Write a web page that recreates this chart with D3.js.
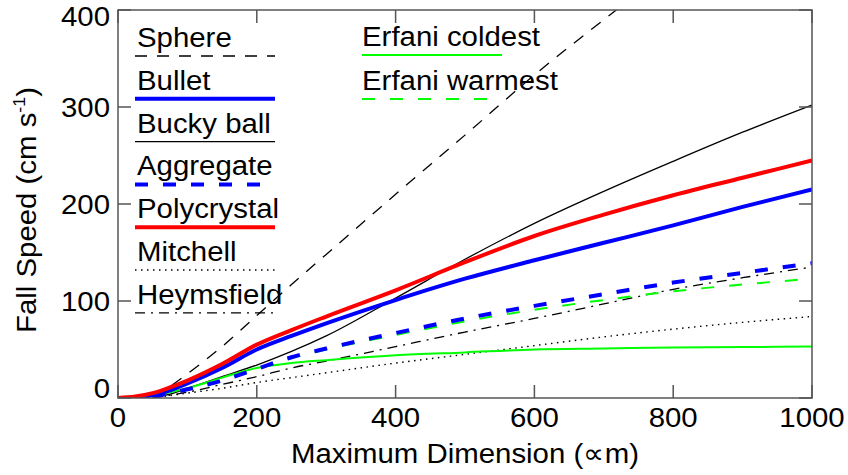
<!DOCTYPE html>
<html>
<head>
<meta charset="utf-8">
<script src="https://cdn.jsdelivr.net/npm/d3@7"></script>
<style>
  body { margin: 0; background: #fff; }
  text { font-family: "Liberation Sans", Arial, Helvetica, sans-serif; fill: #000; }
</style>
</head>
<body>
<svg id="chart" width="848" height="475"></svg>
<script>
// Maximum dimension grid (micrometres) shared by every fall-speed curve
const diameters = [0, 25, 50, 75, 100, 150, 200, 250, 300, 400, 500, 600, 700, 800, 900, 1000];

// Fall speed (cm s^-1) for each habit; null where the curve is not drawn
const sphere       = [null, null, 2, 12, 25, 53, 85, 117, 148, 210, 271, 333, 390, 445, null, null];
const bullet       = [0, 0.5, 3, 8, 15, 31, 50, 64, 77, 101, 123, 142, 160, 178, 197, 215];
const buckyBall    = [null, null, 0.5, 4, 10, 22, 34, 48, 64, 103, 143, 180, 213, 244, 274, 302];
const aggregate    = [null, null, 2, 5, 9, 18, 30, 42, 51, 67, 82, 95, 107, 119, 129, 139];
const polycrystal  = [0, 1.5, 5, 11, 18, 35, 55, 70, 84, 111, 140, 167, 189, 209, 227, 245];
const mitchell     = [null, null, 0, 2.5, 5, 10, 16, 21, 26, 36, 45, 54, 63, 71, 78, 84];
const heymsfield   = [null, null, 0, 3, 6, 14, 22, 31, 38, 53, 68, 82, 97, 112, 124, 135];
const erfaniCold   = [null, null, 2, 6, 10, 21, 31, 36, 39, 44, 47, 50, 51, 52, 52.5, 53];
const erfaniWarm   = [null, null, 2, 5, 9, 18, 30, 41, 50, 65, 79, 91, 101, 110, 117, 123];

const xTicks = [0, 200, 400, 600, 800, 1000];
const yTicks = [0, 100, 200, 300, 400];

const legendLeft  = ["Sphere", "Bullet", "Bucky ball", "Aggregate", "Polycrystal", "Mitchell", "Heymsfield"];
const legendRight = ["Erfani coldest", "Erfani warmest"];

// Line styles for each habit
const styles = {
  "Sphere":         { values: sphere,      color: "#000", width: 1.3, dash: "12,10" },
  "Bullet":         { values: bullet,      color: "#0000ff", width: 4, dash: null },
  "Bucky ball":     { values: buckyBall,   color: "#000", width: 1.3, dash: null },
  "Aggregate":      { values: aggregate,   color: "#0000ff", width: 4, dash: "13,15" },
  "Polycrystal":    { values: polycrystal, color: "#ff0000", width: 4, dash: null },
  "Mitchell":       { values: mitchell,    color: "#000", width: 1.4, dash: "1.5,4.5" },
  "Heymsfield":     { values: heymsfield,  color: "#000", width: 1.3, dash: "10,6,2,6" },
  "Erfani coldest": { values: erfaniCold,  color: "#00ff00", width: 2, dash: null },
  "Erfani warmest": { values: erfaniWarm,  color: "#00ff00", width: 2, dash: "13,15" }
};
const drawOrder = ["Sphere", "Bucky ball", "Mitchell", "Heymsfield", "Erfani coldest",
                   "Erfani warmest", "Aggregate", "Bullet", "Polycrystal"];

const svg = d3.select("#chart");
const plotLeft = 118, plotRight = 812, plotTop = 10, plotBottom = 398;
const fontSize = 28, stretch = 1.05;

const x = d3.scaleLinear().domain([0, 1000]).range([plotLeft, plotRight]);
const y = d3.scaleLinear().domain([0, 400]).range([plotBottom, plotTop]);

// Text placed at (tx, ty), widened slightly
function label(parent, tx, ty, str, anchor) {
  return parent.append("text")
    .attr("transform", `translate(${tx},${ty}) scale(${stretch},1)`)
    .attr("text-anchor", anchor || "start")
    .attr("font-size", fontSize)
    .text(str);
}

// Legend (drawn first so the curves pass over it)
const legend = svg.append("g");
function legendItem(name, tx, lineY, x0, x1) {
  const s = styles[name];
  label(legend, tx, lineY - 9, name);
  legend.append("line").attr("x1", x0).attr("x2", x1).attr("y1", lineY).attr("y2", lineY)
    .attr("stroke", s.color).attr("stroke-width", s.width)
    .attr("stroke-dasharray", s.dash);
}
legendLeft.forEach((n, i) => legendItem(n, 137, 56 + i * 42.8, 135, 275));
legendRight.forEach((n, i) => legendItem(n, 362, 55 + i * 44, 362, 502));

// Curves, clipped to the plotting region
svg.append("clipPath").attr("id", "plot-clip")
  .append("rect").attr("x", plotLeft).attr("y", plotTop)
  .attr("width", plotRight - plotLeft).attr("height", plotBottom - plotTop);

const line = d3.line()
  .defined(d => d[1] !== null)
  .x(d => x(d[0])).y(d => y(d[1]))
  .curve(d3.curveMonotoneX);

const curves = svg.append("g").attr("clip-path", "url(#plot-clip)");
drawOrder.forEach(name => {
  const s = styles[name];
  const pts = diameters.map((dv, i) => [dv, s.values[i]]);
  curves.append("path").datum(pts)
    .attr("d", line)
    .attr("fill", "none")
    .attr("stroke", s.color)
    .attr("stroke-width", s.width)
    .attr("stroke-dasharray", s.dash)
    .attr("stroke-linejoin", "round");
});

// Frame with inward ticks on all four sides
const frame = svg.append("g").attr("stroke", "#555").attr("stroke-width", 1.5).attr("fill", "none");
frame.append("rect").attr("x", plotLeft).attr("y", plotTop)
  .attr("width", plotRight - plotLeft).attr("height", plotBottom - plotTop);
const tickLen = 13;
xTicks.forEach(t => {
  frame.append("line").attr("x1", x(t)).attr("x2", x(t)).attr("y1", plotBottom).attr("y2", plotBottom - tickLen);
  frame.append("line").attr("x1", x(t)).attr("x2", x(t)).attr("y1", plotTop).attr("y2", plotTop + tickLen);
});
yTicks.forEach(t => {
  frame.append("line").attr("x1", plotLeft).attr("x2", plotLeft + tickLen).attr("y1", y(t)).attr("y2", y(t));
  frame.append("line").attr("x1", plotRight).attr("x2", plotRight - tickLen).attr("y1", y(t)).attr("y2", y(t));
});

// Tick labels
const xLabels = svg.append("g");
xTicks.forEach(t => label(xLabels, x(t), 427, t, "middle"));

const yLabels = svg.append("g");
yTicks.forEach(t => label(yLabels, 110, Math.min(Math.max(y(t), 16), 388) + 10, t, "end"));

// Axis titles
label(svg, (plotLeft + plotRight) / 2, 463, "Maximum Dimension (\u221Dm)", "middle");

const yTitle = svg.append("text")
  .attr("transform", `translate(36,${(plotTop + plotBottom) / 2 + 6}) rotate(-90) scale(${stretch},1)`)
  .attr("text-anchor", "middle").attr("font-size", fontSize);
yTitle.append("tspan").text("Fall Speed (cm s");
yTitle.append("tspan").attr("font-size", 17).attr("dy", -11).text("-1");
yTitle.append("tspan").attr("dy", 11).text(")");
</script>
</body>
</html>
